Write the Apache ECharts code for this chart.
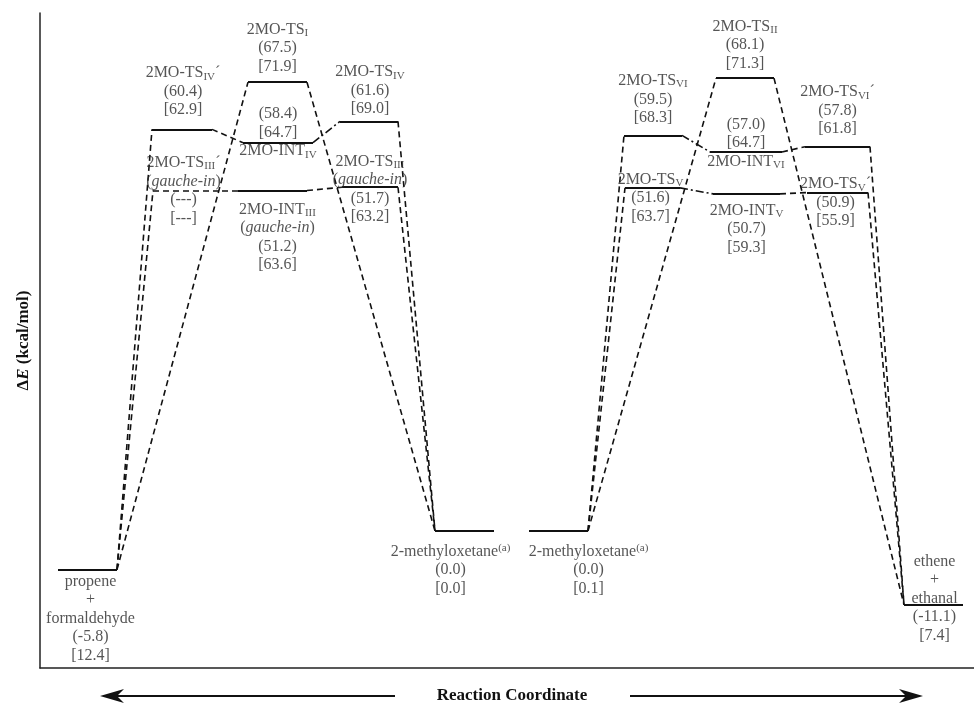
<!DOCTYPE html>
<html>
<head>
<meta charset="utf-8">
<script src="https://cdn.jsdelivr.net/npm/echarts@6/dist/echarts.min.js"></script>
<style>
  html, body { margin: 0; padding: 0; background: #fff; }
  #main { width: 974px; height: 704px; }
</style>
</head>
<body>
<div id="main"></div>
<script>
// species on the profile (rich-text names)
var levelNames = [
  'propene\n+\nformaldehyde', '2MO-TS{s|IV}´', '2MO-TS{s|III}´', '2MO-TS{s|I}',
  '2MO-INT{s|IV}', '2MO-INT{s|III}', '2MO-TS{s|IV}', '2MO-TS{s|III}',
  '2-methyloxetane{p|(a)}', '2-methyloxetane{p|(a)}',
  '2MO-TS{s|VI}', '2MO-TS{s|V}', '2MO-TS{s|II}', '2MO-INT{s|VI}', '2MO-INT{s|V}',
  '2MO-TS{s|VI}´', '2MO-TS{s|V}´', 'ethene\n+\nethanal'
]
// (ΔE) values, null = not available
var energyParen = [-5.8, 60.4, null, 67.5, 58.4, 51.2, 61.6, 51.7, 0.0, 0.0,
  59.5, 51.6, 68.1, 57.0, 50.7, 57.8, 50.9, -11.1]
// [ΔE] values
var energyBracket = [12.4, 62.9, null, 71.9, 64.7, 63.6, 69.0, 63.2, 0.0, 0.1,
  68.3, 63.7, 71.3, 64.7, 59.3, 61.8, 55.9, 7.4]
// height the level is drawn at (TS_III´ has no value)
var levelEnergy = [-5.8, 60.4, 51.2, 67.5, 58.4, 51.2, 61.6, 51.7, 0.0, 0.0,
  59.5, 51.6, 68.1, 57.0, 50.7, 57.8, 50.9, -11.1]
// reaction coordinate start / end of each level
var levelStart = [5.8, 15.2, 15.3, 24.8, 24.3, 23.8, 34.0, 34.2, 43.5, 52.9,
  62.4, 62.5, 71.6, 71.0, 71.3, 80.5, 80.7, 90.4]
var levelEnd = [11.7, 21.2, 22.2, 30.7, 31.3, 30.7, 39.8, 39.8, 49.4, 58.8,
  68.2, 68.0, 77.4, 78.2, 78.0, 87.0, 86.8, 96.3]
var gaucheIn = [false, false, true, false, false, true, false, true, false, false,
  false, false, false, false, false, false, false, false]
var estimated = [false, false, true, false, false, false, false, false, false, false,
  false, false, false, false, false, false, false, false]
// connections [from, to, kind]  d = dashed, dd = dash-dot
var links = [
  [0, 1, 'd'], [0, 2, 'd'], [0, 3, 'd'], [1, 4, 'd'], [4, 6, 'dd'], [2, 5, 'd'],
  [5, 7, 'd'], [3, 8, 'd'], [6, 8, 'd'], [7, 8, 'd'],
  [9, 10, 'd'], [9, 11, 'd'], [9, 12, 'd'], [10, 13, 'dd'], [13, 15, 'd'],
  [11, 14, 'dd'], [14, 16, 'd'], [12, 17, 'd'], [15, 17, 'd'], [16, 17, 'd']
]

// label placement (px offsets from level centre), values-first for INT_IV / INT_VI
var labelOffset = [
  [3, 49], [1, -38], [-4, 0], [0, -34], [0, -10], [5, 46.5], [1, -31], [0, 2],
  [-14, 39], [30, 39], [0, -36], [-2, 10], [0, -33], [0, -9], [0, 35],
  [0, -36], [-2, 10], [1, -6.5]
]
var valuesFirst = [4, 13]

var levelData = levelNames.map(function(n, i) {
  return {
    coords: [[levelStart[i], levelEnergy[i]], [levelEnd[i], levelEnergy[i]]],
    lineStyle: { type: estimated[i] ? [6, 4] : 'solid', width: estimated[i] ? 1.6 : 1.8 }
  }
})
var linkData = links.map(function(l) {
  var a = l[0], b = l[1]
  return {
    coords: [[levelEnd[a], levelEnergy[a]], [levelStart[b], levelEnergy[b]]],
    lineStyle: { type: l[2] === 'dd' ? [8, 3, 2, 3] : [6, 4], width: 1.6 }
  }
})

function fmtVal(v, open, close) {
  return open + (v === null ? '---' : v.toFixed(1)) + close
}
var labelData = levelNames.map(function(n, i) {
  var vals = [fmtVal(energyParen[i], '(', ')'), fmtVal(energyBracket[i], '[', ']')]
  var lines
  if (valuesFirst.indexOf(i) >= 0) {
    lines = vals.concat([n])
  } else {
    lines = [n]
    if (gaucheIn[i]) lines.push('({i|gauche-in})')
    lines = lines.concat(vals)
  }
  return {
    value: [(levelStart[i] + levelEnd[i]) / 2, levelEnergy[i]],
    label: { formatter: lines.join('\n'), offset: labelOffset[i] }
  }
})

var serif = '"Liberation Serif", "DejaVu Serif", serif'
var chartDom = document.getElementById('main')
var myChart = echarts.init(chartDom)
var option = {
  animation: false,
  backgroundColor: '#fff',
  grid: { left: 40, right: 0, top: 13, bottom: 36 },
  xAxis: {
    type: 'value',
    min: 4.0,
    max: 97.4,
    axisLine: { show: true, onZero: false, lineStyle: { color: '#222', width: 1.5 } },
    axisTick: { show: false },
    axisLabel: { show: false },
    splitLine: { show: false }
  },
  yAxis: {
    type: 'value',
    min: -20.6,
    max: 77.9,
    axisLine: { show: true, onZero: false, lineStyle: { color: '#222', width: 1.5 } },
    axisTick: { show: false },
    axisLabel: { show: false },
    splitLine: { show: false },
    name: '{n|Δ}{e|E}{n| (kcal/mol)}',
    nameLocation: 'middle',
    nameRotate: 90,
    nameGap: 8,
    nameTextStyle: {
      rich: {
        n: { fontFamily: serif, fontWeight: 'bold', fontSize: 17, color: '#111' },
        e: { fontFamily: serif, fontWeight: 'bold', fontStyle: 'italic', fontSize: 17, color: '#111' }
      }
    }
  },
  graphic: [
    {
      type: 'text', x: 512, y: 696,
      style: {
        text: 'Reaction Coordinate', font: 'bold 17px ' + serif, fill: '#111',
        textAlign: 'center', textVerticalAlign: 'middle', align: 'center', verticalAlign: 'middle'
      }
    },
    { type: 'line', shape: { x1: 112, y1: 696, x2: 395, y2: 696 }, style: { stroke: '#111', lineWidth: 2 } },
    { type: 'polygon', shape: { points: [[100, 696], [124, 689], [117, 696], [124, 703]] }, style: { fill: '#111' } },
    { type: 'line', shape: { x1: 630, y1: 696, x2: 911, y2: 696 }, style: { stroke: '#111', lineWidth: 2 } },
    { type: 'polygon', shape: { points: [[923, 696], [899, 689], [906, 696], [899, 703]] }, style: { fill: '#111' } }
  ],
  series: [
    {
      type: 'lines',
      coordinateSystem: 'cartesian2d',
      polyline: false,
      silent: true,
      lineStyle: { color: '#111', opacity: 1 },
      data: linkData
    },
    {
      type: 'lines',
      coordinateSystem: 'cartesian2d',
      polyline: false,
      silent: true,
      lineStyle: { color: '#111', opacity: 1 },
      data: levelData
    },
    {
      type: 'scatter',
      symbolSize: 0,
      silent: true,
      z: 5,
      label: {
        show: true,
        position: 'inside',
        align: 'center',
        verticalAlign: 'middle',
        fontFamily: serif,
        fontSize: 16,
        lineHeight: 18.5,
        color: '#2a2a2a',
        rich: {
          s: { fontFamily: serif, fontSize: 11, lineHeight: 10, verticalAlign: 'bottom', color: '#2a2a2a' },
          p: { fontFamily: serif, fontSize: 11, lineHeight: 10, verticalAlign: 'top', color: '#2a2a2a' },
          i: { fontFamily: serif, fontSize: 16, fontStyle: 'italic', color: '#2a2a2a' }
        }
      },
      data: labelData
    }
  ]
}
option && myChart.setOption(option)
</script>
</body>
</html>
